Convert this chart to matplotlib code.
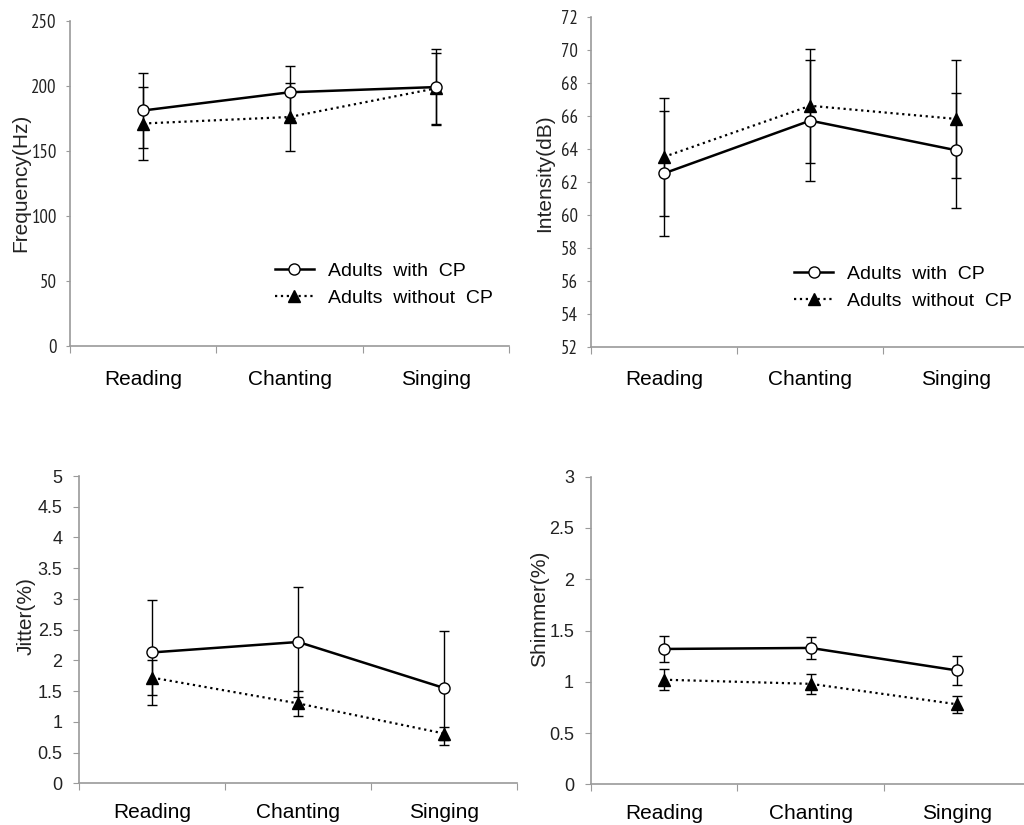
import numpy as np
import matplotlib
matplotlib.use('Agg')
import matplotlib.pyplot as plt

plt.rcParams['font.family'] = ['Liberation Sans', 'DejaVu Sans']

# 数据
categories = ['Reading', 'Chanting', 'Singing']
legend_labels = ['Adults  with  CP', 'Adults  without  CP']

freq_cp = [181, 195, 199]
freq_cp_err = [29, 20, 29]
freq_non = [171, 176, 198]
freq_non_err = [28, 26, 27]

int_cp = [62.5, 65.7, 63.9]
int_cp_err = [3.8, 3.65, 3.5]
int_non = [63.5, 66.6, 65.8]
int_non_err = [3.6, 3.45, 3.6]

jit_cp = [2.13, 2.30, 1.55]
jit_cp_err = [0.85, 0.90, 0.93]
jit_non = [1.72, 1.30, 0.81]
jit_non_err = [0.28, 0.21, 0.11]

shim_cp = [1.32, 1.33, 1.11]
shim_cp_err = [0.13, 0.11, 0.14]
shim_non = [1.02, 0.98, 0.78]
shim_non_err = [0.10, 0.10, 0.085]

fig = plt.figure(figsize=(10.24, 8.25), dpi=100)

panels = [
    dict(rect=[0.0684, 0.5806, 0.4287, 0.3943], cp=freq_cp, cpe=freq_cp_err, non=freq_non, none=freq_non_err,
         ylim=(0, 250), yticks=np.arange(0, 251, 50), ylabel='Frequency(Hz)', narrow=True,
         lab=(-0.091, 0.5), legend=(0.467, 0.258), pad=17),
    dict(rect=[0.5769, 0.5798, 0.4286, 0.4000], cp=int_cp, cpe=int_cp_err, non=int_non, none=int_non_err,
         ylim=(52, 72), yticks=np.arange(52, 73, 2), ylabel='Intensity(dB)', narrow=True,
         lab=(-0.083, 0.526), legend=(0.464, 0.247), pad=17),
    dict(rect=[0.0774, 0.0505, 0.4277, 0.3725], cp=jit_cp, cpe=jit_cp_err, non=jit_non, none=jit_non_err,
         ylim=(0, 5), yticks=np.arange(0, 5.01, 0.5), ylabel='Jitter(%)', narrow=False,
         lab=(-0.1, 0.544), legend=None, pad=14),
    dict(rect=[0.5769, 0.0493, 0.4297, 0.3729], cp=shim_cp, cpe=shim_cp_err, non=shim_non, none=shim_non_err,
         ylim=(0, 3), yticks=np.arange(0, 3.01, 0.5), ylabel='Shimmer(%)', narrow=False,
         lab=(-0.094, 0.57), legend=None, pad=14),
]

x = np.arange(len(categories)) + 0.5
spine_col = '#9a9a9a'

for p in panels:
    ax = fig.add_axes(p['rect'])
    ax.errorbar(x, p['non'], yerr=p['none'], fmt='none', ecolor='black', elinewidth=1,
                capsize=3.5, capthick=1, zorder=2)
    ax.errorbar(x, p['cp'], yerr=p['cpe'], fmt='none', ecolor='black', elinewidth=1,
                capsize=3.5, capthick=1, zorder=2)
    l1, = ax.plot(x, p['cp'], '-', color='black', lw=1.8, marker='o', ms=8,
                  mfc='white', mec='black', mew=1, zorder=4)
    l2, = ax.plot(x, p['non'], ':', color='black', lw=1.6, marker='^', ms=8,
                  mfc='black', mec='black', zorder=3)

    ax.set_xlim(0, 3)
    ax.set_ylim(*p['ylim'])
    for s in ['top', 'right']:
        ax.spines[s].set_visible(False)
    for s in ['left', 'bottom']:
        ax.spines[s].set_color(spine_col)
        ax.spines[s].set_linewidth(1.2)

    ax.set_xticks([0, 1, 2, 3])
    ax.set_xticklabels([])
    ax.tick_params(axis='x', which='major', direction='out', length=5, color=spine_col)
    ax.set_xticks(x, minor=True)
    ax.set_xticklabels(categories, minor=True, fontsize=15, color='black')
    ax.tick_params(axis='x', which='minor', length=0, pad=p['pad'])

    ax.set_yticks(p['yticks'])
    labels = ['{:g}'.format(v) for v in p['yticks']]
    if p['narrow']:
        ax.set_yticklabels(labels, fontsize=13.5, family=['PT Sans Narrow', 'Liberation Sans'],
                           color='#222222')
        ax.tick_params(axis='y', direction='out', length=3, color=spine_col, pad=6.5)
    else:
        ax.set_yticklabels(labels, fontsize=13, color='#222222')
        ax.tick_params(axis='y', direction='out', length=4, color=spine_col, pad=8)

    ax.set_ylabel(p['ylabel'], fontsize=15, color='#222222')
    ax.yaxis.set_label_coords(*p['lab'])

    if p['legend'] is not None:
        ax.legend([l1, l2], legend_labels, loc='upper left', bbox_to_anchor=p['legend'],
                  frameon=False, fontsize=14, handlelength=2.0, handletextpad=0.7,
                  labelspacing=0.5, borderpad=0, borderaxespad=0)

fig.savefig('out.png', dpi=100)
